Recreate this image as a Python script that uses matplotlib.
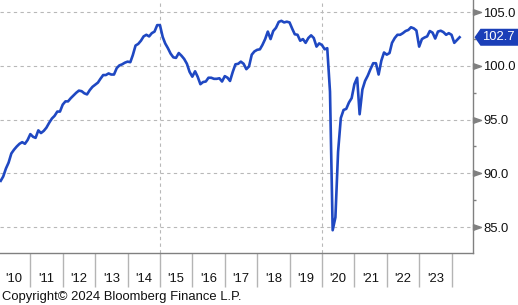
import matplotlib
matplotlib.use("Agg")
import matplotlib.pyplot as plt
import matplotlib.dates as mdates
import matplotlib.ticker as mticker
import pandas as pd
from matplotlib.patches import Polygon
from matplotlib.transforms import IdentityTransform, blended_transform_factory

plt.rcParams['font.family'] = ['Liberation Sans', 'DejaVu Sans']

# monthly index values, Jan 2010 .. Mar 2024
values = [
    89.3, 89.7, 90.45, 91.0, 91.85, 92.2, 92.5, 92.75, 92.9, 92.75, 93.1, 93.65,   # 2010
    93.4, 93.3, 94.0, 93.75, 93.95, 94.25, 94.7, 95.1, 95.35, 95.75, 95.75, 96.4,  # 2011
    96.7, 96.7, 97.0, 97.25, 97.5, 97.7, 97.65, 97.45, 97.35, 97.75, 98.05, 98.25,  # 2012
    98.45, 98.8, 99.15, 99.15, 99.3, 99.2, 99.2, 99.8, 100.05, 100.15, 100.3, 100.4,  # 2013
    100.35, 101.0, 101.9, 102.05, 102.35, 102.75, 102.9, 102.75, 103.05, 103.2, 103.8, 103.8,  # 2014
    102.7, 102.1, 101.65, 101.15, 100.8, 100.75, 101.2, 100.95, 100.65, 100.2, 99.45, 99.0,  # 2015
    99.5, 99.0, 98.3, 98.5, 98.55, 98.9, 98.9, 98.8, 98.8, 98.85, 98.55, 99.05,  # 2016
    98.9, 98.6, 99.45, 100.15, 100.2, 100.4, 100.2, 99.7, 99.95, 101.05, 101.35, 101.5,  # 2017
    101.55, 101.95, 102.5, 103.2, 102.5, 103.25, 103.55, 104.1, 104.2, 104.05, 104.12, 104.05,  # 2018
    103.45, 102.95, 102.9, 102.35, 102.5, 102.15, 102.6, 102.85, 102.6, 101.8, 102.1, 101.95,  # 2019
    101.55, 101.65, 97.6, 84.7, 85.9, 92.0, 95.15, 95.9, 96.0, 96.6, 97.0, 98.3,  # 2020
    98.9, 95.5, 97.8, 98.6, 99.1, 99.7, 100.25, 100.25, 99.2, 100.5, 101.25, 101.05,  # 2021
    101.2, 102.15, 102.6, 102.9, 102.9, 103.05, 103.25, 103.35, 103.6, 103.5, 103.3, 101.8,  # 2022
    102.5, 102.64, 102.75, 103.25, 103.1, 102.55, 103.2, 103.28, 103.15, 102.9, 103.05, 102.9,  # 2023
    102.15, 102.4, 102.67,  # 2024
]
dates = pd.date_range('2010-01-31', periods=len(values), freq='ME')

year_labels = list(range(2010, 2024))
grid_years = [2015, 2020]
y_major = [85.0, 90.0, 95.0, 100.0, 105.0]
y_minor = [87.5, 92.5, 97.5, 102.5]

line_blue = '#1f48c2'
tag_blue = '#1b3fb8'
grey = '#808080'
grid_grey = '#b8b8b8'
fsize = 9.4

fig = plt.figure(figsize=(5.18, 3.05), dpi=100)
ax = fig.add_axes([0.0, 1 - 253 / 305, 473 / 518, 253 / 305])

ax.plot(dates, values, color=line_blue, lw=1.9, solid_joinstyle='round', zorder=3)

ax.set_xlim(pd.Timestamp('2010-01-23'), pd.Timestamp('2024-08-29'))
ax.set_ylim(82.58, 106.14)

# spines
for s in ['left', 'top']:
    ax.spines[s].set_visible(False)
for s in ['right', 'bottom']:
    ax.spines[s].set_color(grey)
    ax.spines[s].set_linewidth(1.0)

# y axis on the right
ax.yaxis.tick_right()
ax.set_yticks(y_major)
ax.set_yticklabels([f'{v:.1f}' for v in y_major])
ax.set_yticks(y_minor, minor=True)
ax.tick_params(axis='y', which='major', length=0, pad=7.5, labelsize=fsize, labelcolor='#111111')
ax.tick_params(axis='y', which='minor', length=2.5, width=1, color=grey, direction='out')
ax.grid(axis='y', which='major', linestyle=(0, (3, 3)), color=grid_grey, lw=0.8)

# triangle markers on the major ticks
tri = [(0, -0.35), (0, 0.35), (1, 0), (0, -0.35)]
ax.plot([1] * len(y_major), y_major, linestyle='none', marker=tri, ms=11.5,
        color=grey, transform=blended_transform_factory(ax.transAxes, ax.transData),
        clip_on=False, zorder=4)

# x axis: year separators + labels in the middle of each year
ax.xaxis.set_major_locator(mdates.YearLocator())
ax.xaxis.set_major_formatter(mticker.NullFormatter())
mids = [mdates.date2num(pd.Timestamp(f'{y}-07-02')) for y in year_labels]
ax.xaxis.set_minor_locator(mticker.FixedLocator(mids))
ax.xaxis.set_minor_formatter(mticker.FixedFormatter([f"'{y % 100:02d}" for y in year_labels]))
ax.tick_params(axis='x', which='major', length=24.5, width=1, color='#b4b4b4', direction='out')
ax.tick_params(axis='x', which='minor', length=0, pad=14.5, labelsize=fsize, labelcolor='#111111')
for y in grid_years:
    ax.axvline(pd.Timestamp(f'{y}-01-01'), linestyle=(0, (3, 3)), color=grid_grey, lw=0.8, zorder=1)

# last value tag
fig.canvas.draw()
last = values[-1]
x0 = ax.transAxes.transform((1, 0))[0]
y0 = ax.transData.transform((mdates.date2num(dates[-1]), last))[1]
h = 8.5
poly = Polygon([(x0 + 1.5, y0), (x0 + 7.5, y0 + h), (x0 + 60, y0 + h),
                (x0 + 60, y0 - h), (x0 + 7.5, y0 - h)], closed=True,
               transform=IdentityTransform(), facecolor=tag_blue, edgecolor='none',
               clip_on=False, zorder=5)
fig.patches.append(poly)
fig.text((x0 + 9.5) / 518, y0 / 305, f'{last:.1f}', color='white', fontsize=fsize,
         va='center', ha='left', zorder=6)

fig.text(2 / 518, 1 - 297 / 305, 'Copyright\u00a9 2024 Bloomberg Finance L.P.',
         fontsize=fsize, va='center', ha='left', color='#111111')

fig.savefig('out.png', dpi=100)
